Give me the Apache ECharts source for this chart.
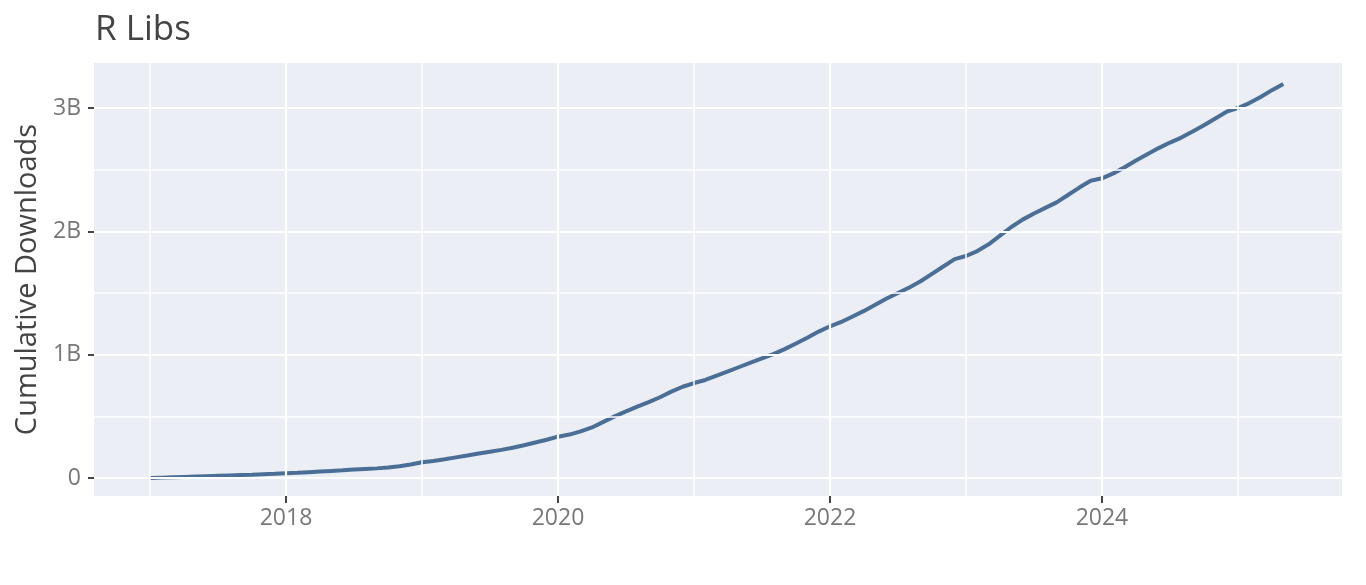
<!DOCTYPE html>
<html>
<head>
<meta charset="utf-8">
<title>R Libs</title>
<script src="https://cdn.jsdelivr.net/npm/echarts@6/dist/echarts.min.js"></script>
<style>
  html, body { margin: 0; padding: 0; background: #fff; }
  #main { width: 1366px; height: 585px; }
</style>
</head>
<body>
<div id="main"></div>
<script>
// cumulative downloads (billions), one value per month, first of month
const d2017 = [0.000, 0.003, 0.006, 0.009, 0.012, 0.015, 0.018, 0.021, 0.024, 0.027, 0.031, 0.034]
const d2018 = [0.038, 0.042, 0.047, 0.052, 0.057, 0.062, 0.068, 0.073, 0.078, 0.085, 0.095, 0.110]
const d2019 = [0.128, 0.138, 0.152, 0.167, 0.182, 0.198, 0.213, 0.228, 0.245, 0.265, 0.288, 0.310]
const d2020 = [0.335, 0.352, 0.378, 0.410, 0.455, 0.500, 0.540, 0.578, 0.615, 0.655, 0.700, 0.740]
const d2021 = [0.770, 0.795, 0.830, 0.865, 0.900, 0.935, 0.970, 1.005, 1.045, 1.090, 1.138, 1.187]
const d2022 = [1.230, 1.265, 1.310, 1.355, 1.405, 1.455, 1.500, 1.545, 1.595, 1.655, 1.715, 1.775]
const d2023 = [1.800, 1.840, 1.895, 1.965, 2.035, 2.095, 2.145, 2.190, 2.235, 2.295, 2.355, 2.410]
const d2024 = [2.430, 2.470, 2.520, 2.575, 2.625, 2.675, 2.720, 2.760, 2.810, 2.860, 2.915, 2.970]
const d2025 = [3.000, 3.040, 3.090, 3.145, 3.195]

const years = [2017, 2018, 2019, 2020, 2021, 2022, 2023, 2024, 2025]
const yearly = [d2017, d2018, d2019, d2020, d2021, d2022, d2023, d2024, d2025]

// axis ticks / grid
const xTicks = [2018, 2020, 2022, 2024]
const xMinor = [2017, 2019, 2021, 2023, 2025]
const yTicks = [0, 1, 2, 3]
const yTickLabels = ['0', '1B', '2B', '3B']
const yMinor = [0.5, 1.5, 2.5]

// points as decimal year
let points = []
years.forEach((yr, i) => {
  yearly[i].forEach((v, m) => points.push([yr + m / 12, v]))
})

const gridMajor = { color: '#fff', width: 2.2, type: 'solid' }
const gridMinor = { color: '#fff', width: 1.5, type: 'solid' }
let gridLines = []
xTicks.forEach(v => gridLines.push({ xAxis: v, lineStyle: gridMajor }))
xMinor.forEach(v => gridLines.push({ xAxis: v, lineStyle: gridMinor }))
yTicks.forEach(v => gridLines.push({ yAxis: v, lineStyle: gridMajor }))
yMinor.forEach(v => gridLines.push({ yAxis: v, lineStyle: gridMinor }))

let myChart = echarts.init(document.getElementById('main'))
let options = {
  animation: false,
  textStyle: { fontFamily: 'Open Sans' },
  title: {
    text: 'R Libs',
    left: 90,
    top: 8,
    textStyle: { fontSize: 35, fontWeight: 'normal', color: '#444', fontFamily: 'Open Sans' }
  },
  grid: {
    left: 94,
    right: 24,
    top: 63,
    bottom: 89,
    show: true,
    backgroundColor: '#EBEFF5',
    borderWidth: 0
  },
  xAxis: {
    type: 'value',
    min: 2016.588,
    max: 2025.765,
    axisLine: { show: false, onZero: false },
    axisTick: {
      show: true,
      customValues: xTicks,
      length: 7,
      lineStyle: { color: '#444', width: 2 }
    },
    axisLabel: {
      customValues: xTicks,
      margin: 11,
      fontSize: 23,
      color: '#777',
      fontFamily: 'Open Sans',
      formatter: v => String(v)
    },
    splitLine: { show: false }
  },
  yAxis: {
    type: 'value',
    min: -0.146,
    max: 3.365,
    name: 'Cumulative Downloads',
    nameLocation: 'middle',
    nameGap: 52,
    nameTextStyle: { fontSize: 29, color: '#444', fontFamily: 'Open Sans' },
    axisLine: { show: false, onZero: false },
    axisTick: {
      show: true,
      customValues: yTicks,
      length: 6,
      lineStyle: { color: '#444', width: 2 }
    },
    axisLabel: {
      customValues: yTicks,
      margin: 13,
      fontSize: 23,
      color: '#777',
      fontFamily: 'Open Sans',
      formatter: v => yTickLabels[yTicks.indexOf(v)]
    },
    splitLine: { show: false }
  },
  series: [{
    name: 'grid',
    type: 'line',
    data: [],
    z: 1,
    silent: true,
    markLine: {
      silent: true,
      symbol: 'none',
      label: { show: false },
      animation: false,
      data: gridLines
    }
  }, {
    name: 'R Libs',
    type: 'line',
    data: points,
    z: 3,
    showSymbol: false,
    symbol: 'none',
    lineStyle: { color: '#4A6E96', width: 4 }
  }]
}
myChart.setOption(options)
</script>
</body>
</html>
